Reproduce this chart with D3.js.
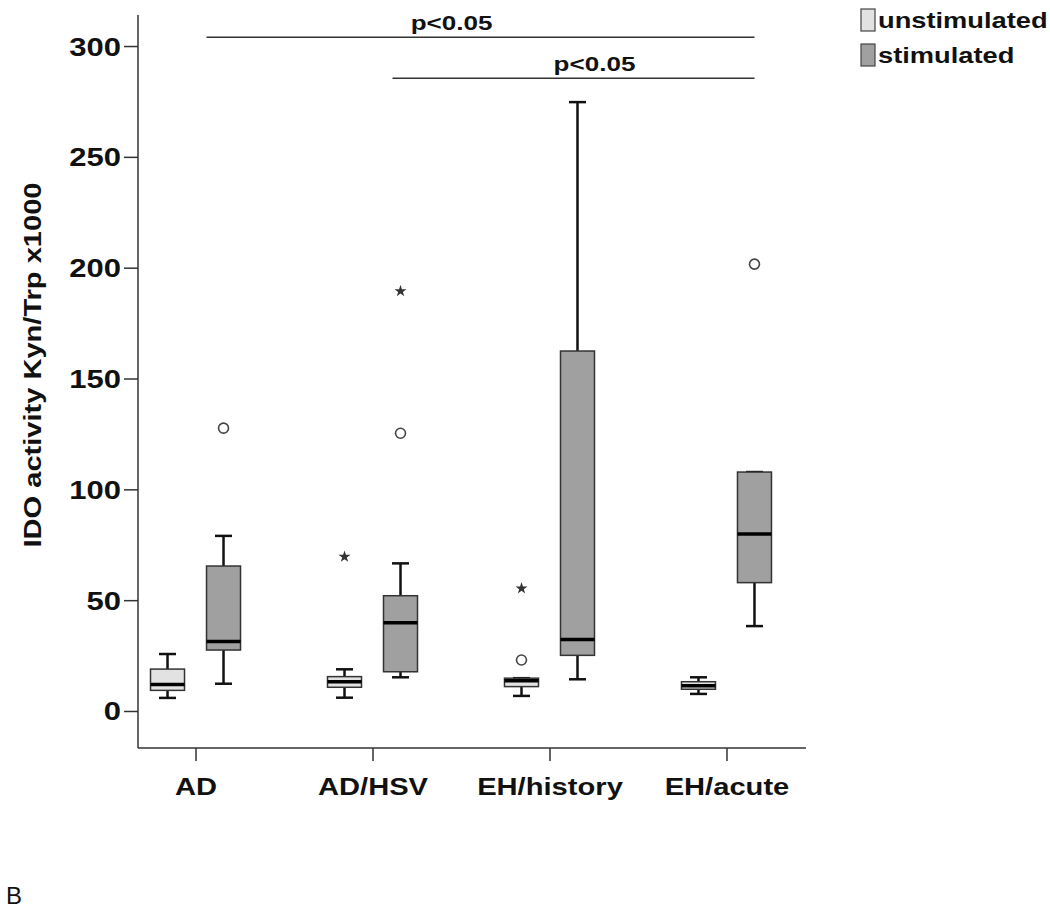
<!DOCTYPE html>
<html>
<head>
<meta charset="utf-8">
<script src="https://cdn.jsdelivr.net/npm/d3@7/dist/d3.min.js"></script>
<style>
  html, body { margin: 0; padding: 0; background: #fff; }
  svg { display: block; }
  text { font-family: "Liberation Sans", Arial, sans-serif; }
</style>
</head>
<body>
<svg id="chart" width="1050" height="919"></svg>
<script>
// ---- data ----
const categories = ["AD", "AD/HSV", "EH/history", "EH/acute"];
const seriesNames = ["unstimulated", "stimulated"];
// five-number summaries [whisker low, Q1, median, Q3, whisker high]
const unstimulatedStats = [
  [5.9, 9.3, 12.0, 18.9, 25.7],
  [6.0, 10.7, 13.2, 15.5, 18.8],
  [6.8, 11.0, 13.6, 14.8, 14.8],
  [7.7, 9.8, 11.4, 13.2, 15.2]
];
const stimulatedStats = [
  [12.3, 27.5, 31.4, 65.4, 79.0],
  [15.2, 17.7, 39.8, 52.0, 66.6],
  [14.3, 25.1, 32.3, 162.4, 274.7],
  [38.3, 57.9, 79.8, 107.8, 107.8]
];
// outliers: [category, series, value, kind]
const outliers = [
  ["AD/HSV", "unstimulated", 69.6, "extreme"],
  ["EH/history", "unstimulated", 55.3, "extreme"],
  ["EH/history", "unstimulated", 23.0, "outlier"],
  ["AD", "stimulated", 127.6, "outlier"],
  ["AD/HSV", "stimulated", 125.3, "outlier"],
  ["AD/HSV", "stimulated", 189.4, "extreme"],
  ["EH/acute", "stimulated", 201.6, "outlier"]
];
const yTicks = [0, 50, 100, 150, 200, 250, 300];
// significance brackets: [from category, to category, level, label]
const brackets = [
  ["AD", "EH/acute", 304, "p<0.05"],
  ["AD/HSV", "EH/acute", 285.5, "p<0.05"]
];

// ---- layout ----
const svg = d3.select("#chart");
const SX = 1.24; // horizontal text stretch of the original
const fillColor = { unstimulated: "#e2e2e2", stimulated: "#a0a0a0" };

const y = d3.scaleLinear().domain([-16.7, 314]).range([748, 15]);
const x = d3.scalePoint().domain(categories).range([138, 784]).padding(0.325);
const xs = d3.scalePoint().domain(seriesNames).range([-28, 28]);
const boxW = 34, capW = 17;

// axes lines
svg.append("line").attr("x1", 138).attr("x2", 138).attr("y1", y.range()[1]).attr("y2", y.range()[0])
  .attr("stroke", "#333").attr("stroke-width", 1.5);
svg.append("line").attr("x1", 138).attr("x2", 806).attr("y1", y.range()[0]).attr("y2", y.range()[0])
  .attr("stroke", "#333").attr("stroke-width", 1.5);

// y ticks
const yAxis = d3.axisLeft(y).tickValues(yTicks).tickSize(14).tickPadding(3);
const gy = svg.append("g").attr("transform", "translate(138,0)").call(yAxis);
gy.select(".domain").remove();
gy.selectAll(".tick line").attr("stroke", "#333").attr("stroke-width", 1.5);
gy.selectAll(".tick text").each(function(d) {
  const t = d3.select(this);
  t.attr("x", null).attr("dy", null)
   .attr("transform", `translate(-17,9) scale(${SX},1)`)
   .attr("font-size", 25).attr("font-weight", "bold").attr("fill", "#111")
   .attr("text-anchor", "end");
});

// x ticks
const xAxis = d3.axisBottom(x).tickSize(13).tickPadding(0);
const gx = svg.append("g").attr("transform", `translate(0,${y.range()[0]})`).call(xAxis);
gx.select(".domain").remove();
gx.selectAll(".tick line").attr("stroke", "#333").attr("stroke-width", 1.5);
gx.selectAll(".tick text").each(function() {
  d3.select(this).attr("y", null).attr("dy", null)
    .attr("transform", `translate(0,47) scale(${SX},1)`)
    .attr("font-size", 23.5).attr("font-weight", "bold").attr("fill", "#111")
    .attr("text-anchor", "middle");
});

// y title
svg.append("text")
  .attr("transform", "translate(41,365) rotate(-90)")
  .attr("text-anchor", "middle")
  .attr("font-size", 23).attr("font-weight", "bold").attr("fill", "#111")
  .attr("textLength", 365).attr("lengthAdjust", "spacingAndGlyphs")
  .text("IDO activity Kyn/Trp x1000");

// boxes
function drawBoxes(stats, name) {
  const g = svg.append("g");
  stats.forEach((s, i) => {
    const cx = x(categories[i]) + xs(name);
    const [lo, q1, med, q3, hi] = s;
    g.append("line").attr("x1", cx).attr("x2", cx).attr("y1", y(q3)).attr("y2", y(hi))
      .attr("stroke", "#111").attr("stroke-width", 2.5);
    g.append("line").attr("x1", cx).attr("x2", cx).attr("y1", y(q1)).attr("y2", y(lo))
      .attr("stroke", "#111").attr("stroke-width", 2.5);
    [lo, hi].forEach(v => {
      g.append("line").attr("x1", cx - capW / 2).attr("x2", cx + capW / 2)
        .attr("y1", y(v)).attr("y2", y(v)).attr("stroke", "#111").attr("stroke-width", 2.5);
    });
    g.append("rect").attr("x", cx - boxW / 2).attr("width", boxW)
      .attr("y", y(q3)).attr("height", Math.max(1, y(q1) - y(q3)))
      .attr("fill", fillColor[name]).attr("stroke", "#333").attr("stroke-width", 1.5);
    g.append("line").attr("x1", cx - boxW / 2).attr("x2", cx + boxW / 2)
      .attr("y1", y(med)).attr("y2", y(med)).attr("stroke", "#000").attr("stroke-width", 3.5);
  });
}
drawBoxes(unstimulatedStats, "unstimulated");
drawBoxes(stimulatedStats, "stimulated");

// outliers
const star = d3.symbol().type(d3.symbolStar).size(45);
outliers.forEach(([cat, ser, v, kind]) => {
  const cx = x(cat) + xs(ser);
  if (kind === "outlier") {
    svg.append("circle").attr("cx", cx).attr("cy", y(v)).attr("r", 5)
      .attr("fill", "#fff").attr("stroke", "#444").attr("stroke-width", 1.6);
  } else {
    svg.append("path").attr("d", star).attr("transform", `translate(${cx},${y(v)})`)
      .attr("fill", "#333");
  }
});

// significance brackets
const bracketStart = { "AD": 11, "AD/HSV": 20 };
const labelShift = { "AD": -29, "AD/HSV": 21 };
brackets.forEach(([from, to, lvl, lab]) => {
  const x1 = x(from) + bracketStart[from];
  const x2 = x(to) + 28;
  svg.append("line").attr("x1", x1).attr("x2", x2).attr("y1", y(lvl)).attr("y2", y(lvl))
    .attr("stroke", "#333").attr("stroke-width", 1.5);
  svg.append("text")
    .attr("transform", `translate(${(x1 + x2) / 2 + labelShift[from]},${y(lvl) - 7}) scale(${SX},1)`)
    .attr("text-anchor", "middle").attr("font-size", 21).attr("font-weight", "bold").attr("fill", "#111")
    .text(lab);
});

// legend
const lg = svg.append("g");
seriesNames.forEach((n, i) => {
  lg.append("rect").attr("x", 861).attr("y", 9 + i * 35).attr("width", 14).attr("height", 22)
    .attr("fill", fillColor[n]).attr("stroke", "#444").attr("stroke-width", 1.2);
  lg.append("text").attr("transform", `translate(878,${28 + i * 35}) scale(${SX},1)`)
    .attr("font-size", 22).attr("font-weight", "bold").attr("fill", "#111").text(n);
});

// panel letter
svg.append("text").attr("x", 6).attr("y", 904).attr("font-size", 24).attr("fill", "#111").text("B");
</script>
</body>
</html>
